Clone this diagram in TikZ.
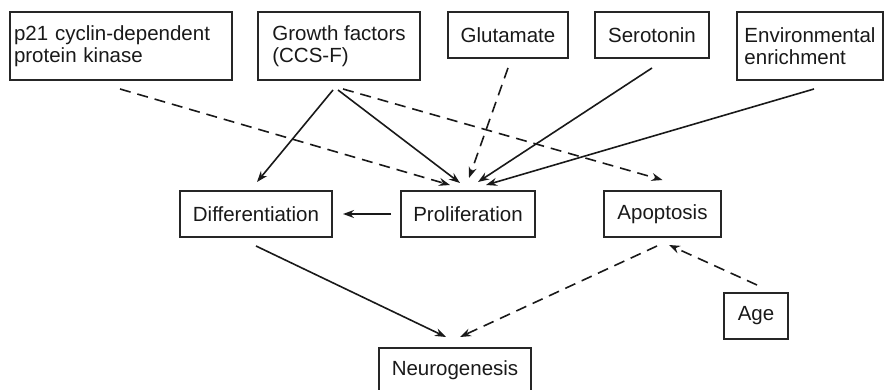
\documentclass[tikz,border=0pt]{standalone}
\usepackage{fontspec}
\setmainfont{Liberation Sans}
\usetikzlibrary{arrows.meta}
\begin{document}
\begin{tikzpicture}[x=1pt,y=-1pt,
  box/.style={draw=black!85,line width=1.8pt,rectangle,inner sep=0pt,outer sep=0pt,
    font=\fontsize{20.5}{22}\selectfont,align=left,text=black!90},
  conn/.style={line width=1.6pt,draw=black!90,-{Stealth[length=11pt,width=8pt]}},
  dconn/.style={conn,dash pattern=on 11pt off 7pt}]
\useasboundingbox (0,0) rectangle (884,390);
% nodes
\node[box,minimum width=222pt,minimum height=68pt,text width=214pt,inner xsep=4pt] (p21) at (121,46)
  {p21 cyclin-dependent\\protein kinase};
\node[box,minimum width=162pt,minimum height=68pt] (gf) at (339,46) {Growth factors\\(CCS-F)};
\node[box,minimum width=120pt,minimum height=46pt] (glu) at (508,35) {Glutamate};
\node[box,minimum width=114pt,minimum height=46pt] (ser) at (652,35) {Serotonin};
\node[box,minimum width=146pt,minimum height=68pt] (env) at (810,46) {Environmental\\enrichment};
\node[box,minimum width=152pt,minimum height=46pt] (diff) at (256,214) {Differentiation};
\node[box,minimum width=134pt,minimum height=46pt] (prol) at (468,214) {Proliferation};
\node[box,minimum width=117pt,minimum height=46pt] (apo) at (662.5,214) {Apoptosis};
\node[box,minimum width=64pt,minimum height=46pt] (age) at (756,316) {Age};
\node[box,minimum width=152pt,minimum height=44pt] (neuro) at (455,370) {Neurogenesis};
% connectors
\draw[dconn] ([xshift=-1pt,yshift=-9pt]p21.south) -- ([xshift=-18pt,yshift=6pt]prol.north);
\draw[conn] ([xshift=-6pt,yshift=-10pt]gf.south) -- ([xshift=1pt,yshift=9pt]diff.north);
\draw[conn] ([xshift=-1pt,yshift=-10pt]gf.south) -- ([xshift=-8pt,yshift=8pt]prol.north);
\draw[dconn] ([xshift=4pt,yshift=-9pt]gf.south) -- ([yshift=11pt]apo.north);
\draw[dconn] ([yshift=-10pt]glu.south) -- ([xshift=1pt,yshift=13pt]prol.north);
\draw[conn] ([yshift=-10pt]ser.south) -- ([xshift=10pt,yshift=9pt]prol.north);
\draw[conn] ([xshift=4pt,yshift=-9pt]env.south) -- ([xshift=18pt,yshift=6pt]prol.north);
\draw[conn] ([xshift=-10pt]prol.west) -- ([xshift=11pt]diff.east);
\draw[conn] ([yshift=-9pt]diff.south) -- ([xshift=-9pt,yshift=11pt]neuro.north);
\draw[dconn] ([xshift=-5.5pt,yshift=-9pt]apo.south) -- ([xshift=5pt,yshift=11pt]neuro.north);
\draw[dconn] ([xshift=1pt,yshift=8pt]age.north) -- ([xshift=6.5pt,yshift=-8pt]apo.south);
\end{tikzpicture}
\end{document}
